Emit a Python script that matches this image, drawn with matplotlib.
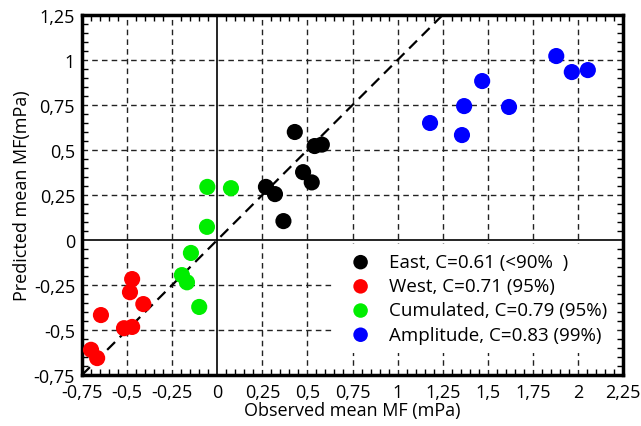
import numpy as np
import matplotlib
matplotlib.use("Agg")
from matplotlib import pyplot as plt
from matplotlib.ticker import FixedLocator, FixedFormatter, MultipleLocator

# observed / predicted mean MF (mPa)
east_x = [0.43, 0.54, 0.58, 0.476, 0.524, 0.27, 0.32, 0.367]
east_y = [0.60, 0.522, 0.53, 0.377, 0.32, 0.295, 0.255, 0.105]
west_x = [-0.472, -0.484, -0.41, -0.645, -0.517, -0.472, -0.70, -0.666]
west_y = [-0.217, -0.29, -0.356, -0.417, -0.49, -0.483, -0.61, -0.656]
cum_x = [-0.055, 0.076, -0.057, -0.146, -0.196, -0.168, -0.10]
cum_y = [0.295, 0.288, 0.073, -0.072, -0.195, -0.235, -0.372]
amp_x = [1.18, 1.369, 1.357, 1.469, 1.618, 1.88, 1.966, 2.055]
amp_y = [0.65, 0.744, 0.583, 0.883, 0.739, 1.022, 0.933, 0.944]

labels = ['East, C=0.61 (<90%  )', 'West, C=0.71 (95%)',
          'Cumulated, C=0.79 (95%)', 'Amplitude, C=0.83 (99%)']
colors = ['black', '#ff0000', '#00ee00', '#0000ff']

xticks = [-0.75, -0.5, -0.25, 0, 0.25, 0.5, 0.75, 1, 1.25, 1.5, 1.75, 2, 2.25]
xticklabels = ['-0,75', '-0,5', '-0,25', '0', '0,25', '0,5', '0,75', '1', '1,25',
               '1,5', '1,75', '2', '2,25']
yticks = [-0.75, -0.5, -0.25, 0, 0.25, 0.5, 0.75, 1, 1.25]
yticklabels = ['-0,75', '-0,5', '-0,25', '0', '0,25', '0,5', '0,75', '1', '1,25']

plt.rcParams['font.family'] = ['Open Sans', 'DejaVu Sans']

fig = plt.figure(figsize=(6.41, 4.27), dpi=100)
ax = fig.add_axes([82/641, 1 - 376/427, (623-82)/641, (376-16)/427])

ax.set_xlim(-0.75, 2.25)
ax.set_ylim(-0.75, 1.25)

# grid + zero lines + 1:1 line
for t in xticks[1:-1]:
    if t != 0:
        ax.axvline(t, color='#222222', lw=1, ls=(0, (4, 3)), zorder=1)
for t in yticks[1:-1]:
    if t != 0:
        ax.axhline(t, color='#222222', lw=1, ls=(0, (4, 3)), zorder=1)
ax.axvline(0, color='black', lw=1.2, zorder=1)
ax.axhline(0, color='black', lw=1.2, zorder=1)
ax.plot([-0.75, 1.25], [-0.75, 1.25], color='black', lw=1.6, ls=(0, (5, 3)), zorder=2)

xs = [east_x, west_x, cum_x, amp_x]
ys = [east_y, west_y, cum_y, amp_y]
for x, y, c, lab in zip(xs, ys, colors, labels):
    ax.scatter(x, y, s=135, color=c, edgecolors='none', label=lab, zorder=3)

ax.xaxis.set_major_locator(FixedLocator(xticks))
ax.xaxis.set_major_formatter(FixedFormatter(xticklabels))
ax.yaxis.set_major_locator(FixedLocator(yticks))
ax.yaxis.set_major_formatter(FixedFormatter(yticklabels))
ax.xaxis.set_minor_locator(MultipleLocator(0.05))
ax.yaxis.set_minor_locator(MultipleLocator(0.05))
ax.tick_params(which='both', direction='in', top=True, right=True, labelsize=13)
ax.tick_params(axis='x', pad=6)
ax.tick_params(axis='y', pad=5)
ax.tick_params(which='major', length=0)
ax.tick_params(which='minor', length=4, width=1)
for s in ax.spines.values():
    s.set_linewidth(2.5)

ax.set_xlabel('Observed mean MF (mPa)', fontsize=13, labelpad=0)
ax.set_ylabel('Predicted mean MF(mPa)', fontsize=13, labelpad=2)

leg = ax.legend(loc='lower right', bbox_to_anchor=(1.005, 0.035), frameon=True,
                fontsize=13.5, handletextpad=0.5, labelspacing=0.33,
                borderpad=0.5, markerscale=0.9)
leg.get_frame().set_edgecolor('none')
leg.get_frame().set_alpha(1)
leg.get_frame().set_boxstyle('square', pad=0)

fig.savefig('out.png', dpi=100)
